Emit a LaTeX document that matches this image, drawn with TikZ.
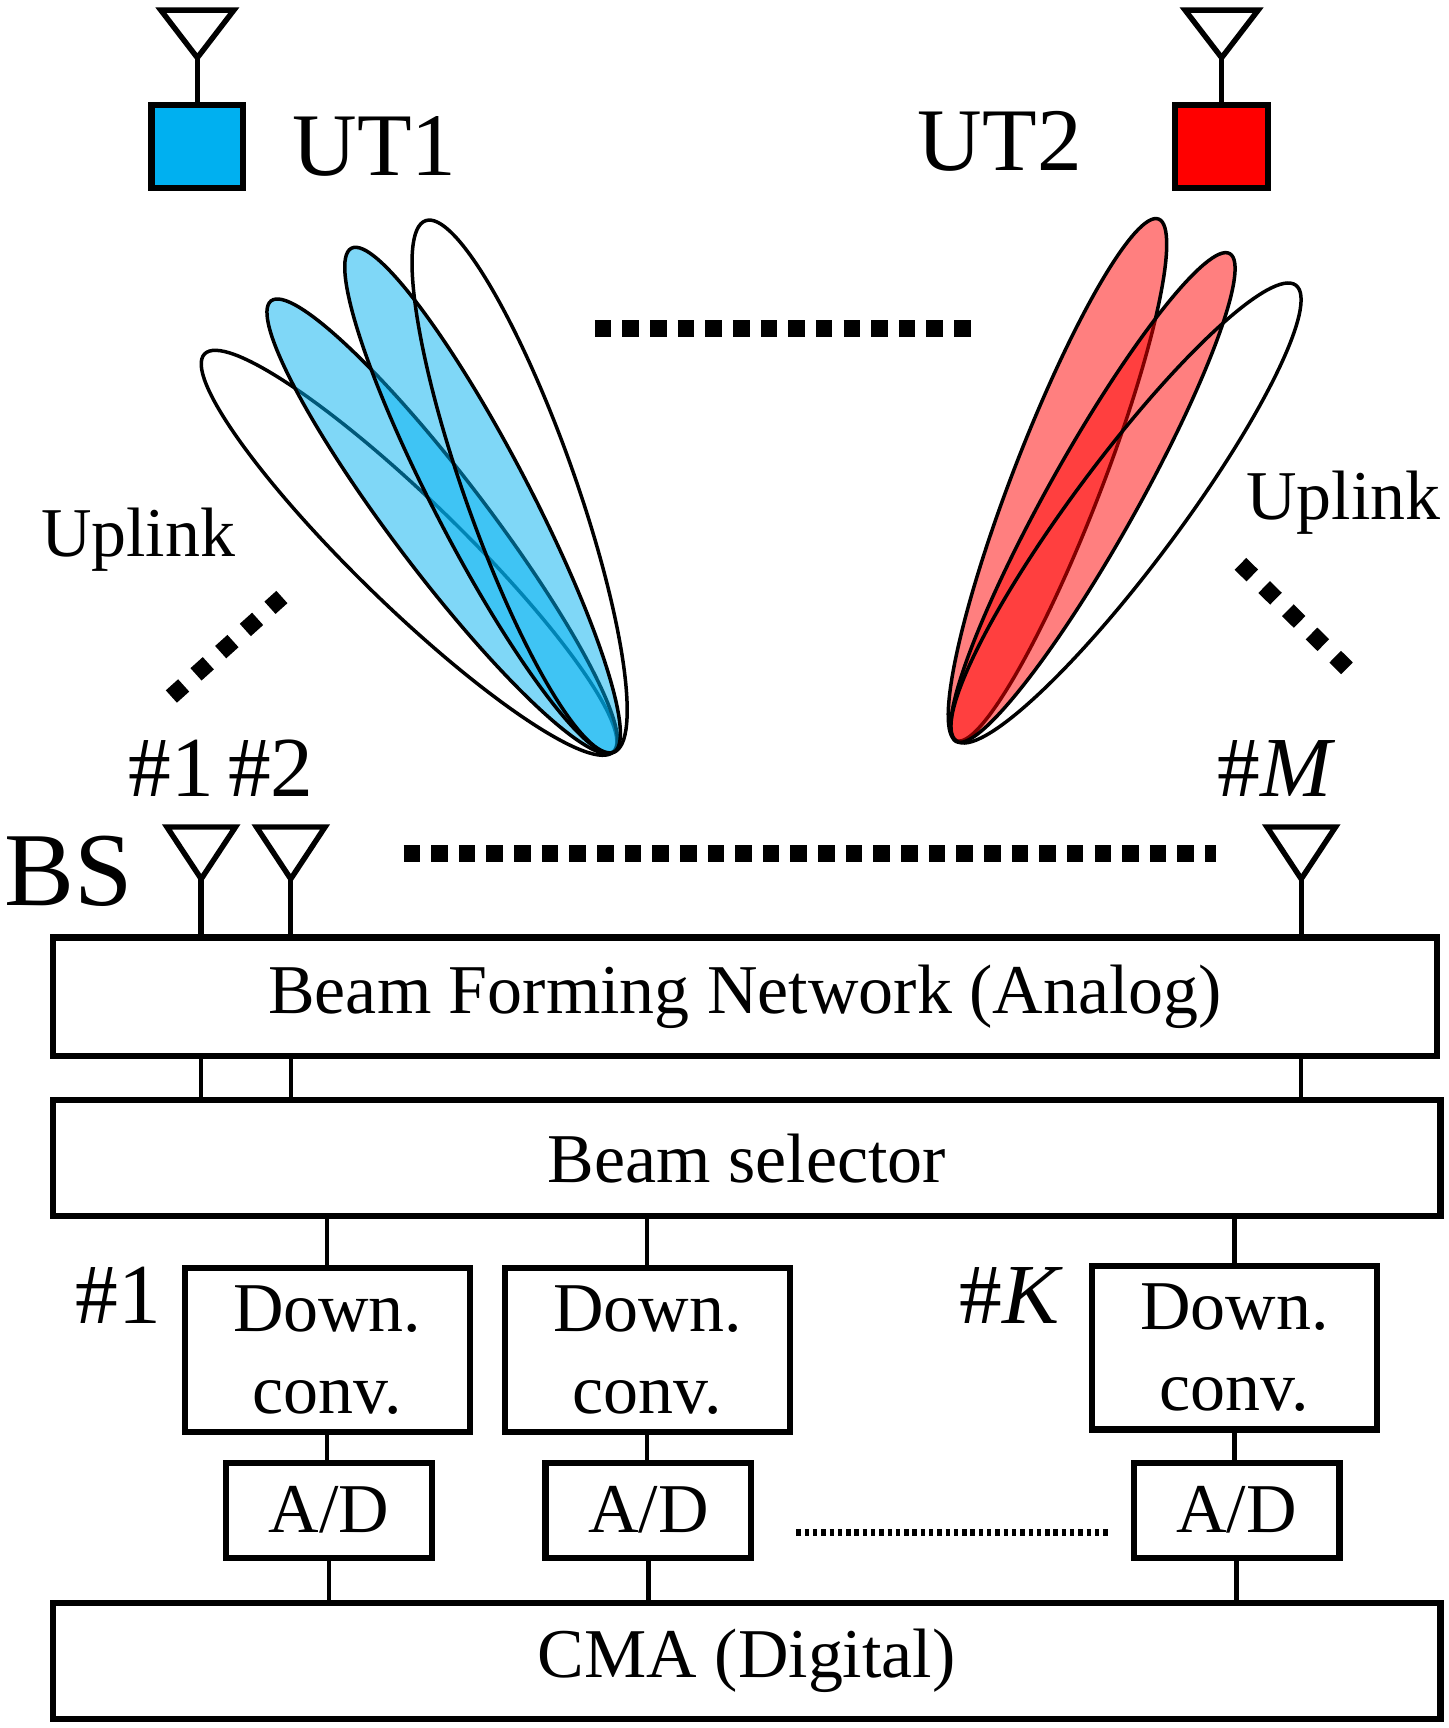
\documentclass[tikz,border=0pt]{standalone}
\usepackage{fontspec}
\setmainfont{Liberation Serif}
\usetikzlibrary{positioning}
\definecolor{utblue}{RGB}{0,176,240}
\definecolor{utred}{RGB}{255,0,0}
\tikzset{
  blk/.style={draw, line width=1.6pt, inner sep=0pt},
  wire/.style={line width=1.1pt},
  ant/.style={line width=1.4pt},
  sqdots/.style={line width=0.15cm, dash pattern=on 0.15cm off 0.1cm},
  lobe/.style={draw, line width=0.9pt}
}
\begin{document}
\begin{tikzpicture}[x=1cm,y=-1cm]
  \useasboundingbox (0,0) rectangle (13.1,15.63);
  \fontsize{18pt}{20pt}\selectfont

  % Base station blocks
  \node[blk, minimum width=12.52cm, minimum height=1.07cm] (bfn) at (6.74,9.015) {Beam Forming Network (Analog)};
  \node[blk, minimum width=12.55cm, minimum height=1.05cm] (sel) at (6.755,10.475) {Beam selector};
  \node[blk, minimum width=12.55cm, minimum height=1.05cm] (cma) at (6.755,15.025) {CMA (Digital)};

  \foreach \n/\x/\y in {1/2.96/12.21, 2/5.855/12.21, 3/11.165/12.19}{
    \node[blk, minimum width=2.58cm, minimum height=1.48cm, align=center,
          font=\fontsize{18pt}{21pt}\selectfont] (dc\n) at (\x,\y) {Down.\\ conv.};
  }
  \foreach \n/\x in {1/2.975, 2/5.865, 3/11.185}{
    \node[blk, minimum width=1.86cm, minimum height=0.86cm] (ad\n) at (\x,13.66) {A/D};
  }
  \foreach \n in {1,2,3}{
    \draw[wire] (dc\n.north) -- (dc\n.north |- sel.south);
    \draw[wire] (dc\n.south) -- (ad\n.north -| dc\n.south);
    \draw[wire] (ad\n.south) -- (ad\n.south |- cma.north);
  }
  \node[font=\fontsize{22pt}{24pt}\selectfont] (k1) at (1.07,11.72) {\#1};
  \node[font=\fontsize{22pt}{24pt}\selectfont] (kK) at (9.15,11.72) {\#\textit{K}};
  \path (ad2.east) ++(0.38,0.2) coordinate (d1) (ad3.west) ++(-0.2,0.2) coordinate (d2);
  \draw[line width=0.06cm, dash pattern=on 0.04cm off 0.035cm] (d1) -- (d2);

  % BS antennas
  \foreach \n/\x in {1/1.82, 2/2.63, 3/11.77}{
    \coordinate (a\n) at (\x,7.95);
    \draw[ant] (\x-0.31,7.48) -- (\x+0.31,7.48) -- (a\n) -- cycle;
    \draw[ant] (a\n) -- (a\n |- bfn.north);
    \draw[wire] (a\n |- bfn.south) -- (a\n |- sel.north);
  }
  \node[font=\fontsize{22pt}{24pt}\selectfont] (m1) at (1.55,6.95) {\#1};
  \node[font=\fontsize{22pt}{24pt}\selectfont] (m2) at (2.45,6.95) {\#2};
  \node[font=\fontsize{22pt}{24pt}\selectfont] (mM) at (11.55,6.95) {\#\textit{M}};
  \node[font=\fontsize{27pt}{29pt}\selectfont] (bs) at (0.62,7.88) {BS};
  \draw[sqdots] (3.65,7.72) -- (11.0,7.72);

  % User terminals
  \node[blk, fill=utblue, minimum width=0.83cm, minimum height=0.75cm] (ut1) at (1.785,1.325) {};
  \node[blk, fill=utred, minimum width=0.84cm, minimum height=0.75cm] (ut2) at (11.05,1.325) {};
  \foreach \u in {ut1,ut2}{
    \draw[ant] (\u.north) -- ++(0,-0.4) coordinate (\u a);
    \draw[ant] (\u a) -- ++(-0.33,-0.43) -- ++(0.66,0) -- cycle;
  }
  \node[font=\fontsize{23pt}{25pt}\selectfont, right=0.2cm of ut1] (l1) {UT1};
  \node[font=\fontsize{23pt}{25pt}\selectfont, left=0.6cm of ut2, yshift=0.05cm] (l2) {UT2};
  \draw[sqdots] (5.38,2.97) -- (8.85,2.97);

  % Beams
  \draw[lobe] (3.70,5.00) [rotate around={135.8:(3.70,5.00)}] ellipse (2.58 and 0.48);
  \draw[lobe, fill=utblue, fill opacity=0.5] (4.00,4.76) [rotate around={127.2:(4.00,4.76)}] ellipse (2.56 and 0.43);
  \draw[lobe, fill=utblue, fill opacity=0.5] (4.365,4.525) [rotate around={117.5:(4.365,4.525)}] ellipse (2.57 and 0.43);
  \draw[lobe] (4.70,4.40) [rotate around={109.5:(4.70,4.40)}] ellipse (2.55 and 0.5);
  \draw[lobe, fill=utred, fill opacity=0.5] (9.565,4.34) [rotate around={68.8:(9.565,4.34)}] ellipse (2.53 and 0.4);
  \draw[lobe, fill=utred, fill opacity=0.5] (9.885,4.50) [rotate around={60.7:(9.885,4.50)}] ellipse (2.53 and 0.4);
  \draw[lobe] (10.185,4.64) [rotate around={53.3:(10.185,4.64)}] ellipse (2.57 and 0.48);

  % Uplink
  \node[font=\fontsize{18pt}{20pt}\selectfont] (up1) at (1.25,4.88) {Uplink};
  \node[font=\fontsize{18pt}{20pt}\selectfont] (up2) at (12.15,4.55) {Uplink};
  \draw[line width=0.15cm, dash pattern=on 0.15cm off 0.15cm] (1.55,6.30) -- (2.55,5.40);
  \draw[line width=0.15cm, dash pattern=on 0.15cm off 0.15cm] (11.22,5.10) -- (12.22,6.08);
\end{tikzpicture}
\end{document}
